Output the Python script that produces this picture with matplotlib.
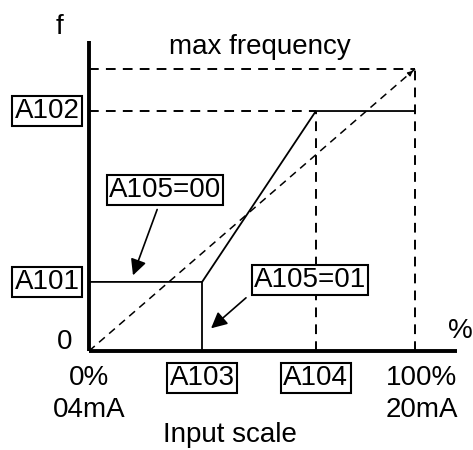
import matplotlib
matplotlib.use("Agg")
import matplotlib.pyplot as plt

plt.rcParams['font.family'] = ['Liberation Sans', 'DejaVu Sans']

# values in % of input / % of max frequency
a103, a104 = 34.7, 69.6          # start / end of input range
a101, a102 = 24.5, 85.1          # start / end frequency
curve_x = [0, a103, a104, 100]
curve_y = [a101, a101, a102, a102]
cut_x = [a103, a103]
cut_y = [0, a101]
max_freq = 100
x_end, y_end = 113, 110

fig = plt.figure(figsize=(4.73, 4.5), dpi=100)
ax = fig.add_axes([89 / 473, 99 / 450, 326 / 473, 282 / 450])
ax.set_xlim(0, 100)
ax.set_ylim(0, 100)
ax.axis('off')

fs = 20
dash = (0, (5, 3.7))
box = dict(boxstyle='square,pad=0.08', fc='white', ec='black', lw=1.5)

# axes
ax.plot([0, x_end], [0, 0], color='black', lw=2.8, clip_on=False, solid_capstyle='butt')
ax.plot([0, 0], [0, y_end], color='black', lw=2.8, clip_on=False, solid_capstyle='butt')

# dashed guides
ax.plot([0, 100], [max_freq, max_freq], color='black', lw=1.4, ls=dash, clip_on=False)
ax.plot([100, 100], [0, max_freq], color='black', lw=1.4, ls=dash, clip_on=False)
ax.plot([0, a104], [a102, a102], color='black', lw=1.4, ls=dash, clip_on=False)
ax.plot([a104, a104], [0, a102], color='black', lw=1.4, ls=dash, clip_on=False)
ax.plot([0, 100], [0, max_freq], color='black', lw=1.1, ls=dash, clip_on=False)
ax.annotate('', xy=(100, max_freq), xytext=(98.5, 98.5),
            arrowprops=dict(arrowstyle='-|>', color='black', lw=1.0, mutation_scale=7))

# characteristic
ax.plot(curve_x, curve_y, color='black', lw=1.3, clip_on=False)
ax.plot(cut_x, cut_y, color='black', lw=1.3, clip_on=False)

# labels
ax.text(-8.9, 114.9, 'f', fontsize=fs, ha='center', va='center')
ax.text(52.5, 107.8, 'max frequency', fontsize=fs, ha='center', va='center')
ax.text(-12.9, a102, 'A102', fontsize=fs, ha='center', va='center', bbox=box)
ax.text(-12.9, a101, 'A101', fontsize=fs, ha='center', va='center', bbox=box)
ax.text(-7.4, 3.2, '0', fontsize=fs, ha='center', va='center')
ax.text(0, -9.6, '0%', fontsize=fs, ha='center', va='center')
ax.text(0, -20.9, '04mA', fontsize=fs, ha='center', va='center')
ax.text(a103, -9.6, 'A103', fontsize=fs, ha='center', va='center', bbox=box)
ax.text(a104, -9.6, 'A104', fontsize=fs, ha='center', va='center', bbox=box)
ax.text(102.1, -9.6, '100%', fontsize=fs, ha='center', va='center')
ax.text(102.1, -20.9, '20mA', fontsize=fs, ha='center', va='center')
ax.text(113.8, 7.1, '%', fontsize=fs, ha='center', va='center')
ax.text(43.3, -29.8, 'Input scale', fontsize=fs, ha='center', va='center')

ax.text(23.3, 57.1, 'A105=00', fontsize=fs, ha='center', va='center', bbox=box)
ax.annotate('', xy=(13.2, 25.9), xytext=(21.2, 51.1),
            arrowprops=dict(arrowstyle='-|>', color='black', lw=1.2, mutation_scale=24))
ax.text(67.8, 25.2, 'A105=01', fontsize=fs, ha='center', va='center', bbox=box)
ax.annotate('', xy=(36.8, 7.4), xytext=(48.8, 19.5),
            arrowprops=dict(arrowstyle='-|>', color='black', lw=1.2, mutation_scale=24))

fig.savefig('out.png', dpi=100)
